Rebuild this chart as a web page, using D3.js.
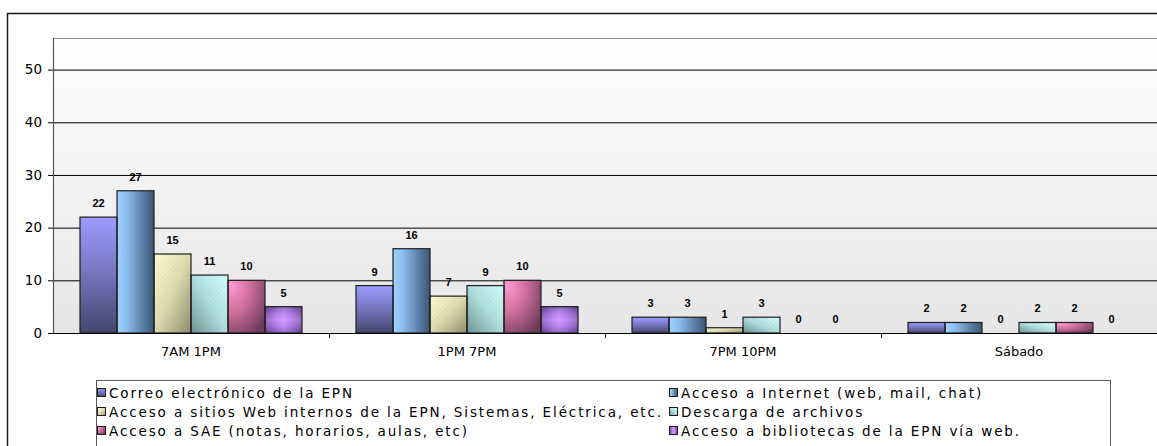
<!DOCTYPE html>
<html>
<head>
<meta charset="utf-8">
<script src="https://cdn.jsdelivr.net/npm/d3@7"></script>
<style>
  html, body { margin: 0; padding: 0; background: #ffffff; }
  svg { display: block; }
</style>
</head>
<body>
<svg id="chart" width="1157" height="446"></svg>
<script>
// Time slots on the horizontal axis
const categories = ["7AM 1PM", "1PM 7PM", "7PM 10PM", "Sábado"];

// Services (one bar series each)
const seriesNames = [
  "Correo electrónico de la EPN",
  "Acceso a Internet (web, mail, chat)",
  "Acceso a sitios Web internos de la EPN, Sistemas, Eléctrica, etc.",
  "Descarga de archivos",
  "Acceso a SAE (notas, horarios, aulas, etc)",
  "Acceso a bibliotecas de la EPN vía web."
];

// Values per series, in category order
const correoValues     = [22, 9, 3, 2];
const internetValues   = [27, 16, 3, 2];
const sitiosValues     = [15, 7, 1, 0];
const descargaValues   = [11, 9, 3, 2];
const saeValues        = [10, 10, 0, 2];
const bibliotecaValues = [5, 5, 0, 0];

const seriesValues = [correoValues, internetValues, sitiosValues,
                      descargaValues, saeValues, bibliotecaValues];

const yTicks = [0, 10, 20, 30, 40, 50];
const yMax = 56;

const svg = d3.select("#chart");
const defs = svg.append("defs");

// ---- fills -------------------------------------------------------------
function linear(id, x1, y1, x2, y2, stops) {
  const g = defs.append("linearGradient").attr("id", id)
    .attr("x1", x1).attr("y1", y1).attr("x2", x2).attr("y2", y2);
  stops.forEach(([o, c]) => g.append("stop").attr("offset", o).attr("stop-color", c));
}
function radial(id, cx, cy, r, stops) {
  const g = defs.append("radialGradient").attr("id", id)
    .attr("cx", cx).attr("cy", cy).attr("r", r);
  stops.forEach(([o, c]) => g.append("stop").attr("offset", o).attr("stop-color", c));
}

linear("bgGrad", 0, 0, 0, 1, [[0, "#ffffff"], [1, "#e6e6e6"]]);
linear("g0", 0, 0, 0, 1, [[0, "#9c9cff"], [0.45, "#7878c4"], [1, "#45456c"]]);
linear("g1", 0, 0, 1, 0, [[0, "#9fd0ff"], [0.25, "#8ec0f0"], [0.7, "#5a7fa6"], [1, "#3c5670"]]);
linear("g2", 0, 0, 1, 1, [[0, "#ffffd2"], [0.5, "#dcdcb0"], [1, "#8e8e6c"]]);
linear("g3", 1, 0, 0, 1, [[0, "#d4ffff"], [0.5, "#b0dede"], [1, "#6f9494"]]);
radial("g4", 0.1, 0.1, 1.1, [[0, "#ff98d0"], [0.45, "#d0709e"], [1, "#6e3c5a"]]);
// framed purple: bright centre, darker border on all four sides
linear("g5h", 0, 0, 1, 0, [[0, "#5e3f84"], [0.3, "#b07ee8"], [0.5, "#d49cff"], [0.7, "#b07ee8"], [1, "#5e3f84"]]);
linear("g5v", 0, 0, 0, 1, [[0, "#5e3f84"], [0.3, "#b07ee8"], [0.5, "#d49cff"], [0.7, "#b07ee8"], [1, "#5e3f84"]]);

// fine diagonal texture on the two pale series
const hatch = defs.append("pattern").attr("id", "hatch")
  .attr("patternUnits", "userSpaceOnUse").attr("width", 3).attr("height", 3)
  .attr("patternTransform", "rotate(45)");
hatch.append("rect").attr("width", 1).attr("height", 3)
  .attr("fill", "#000").attr("opacity", 0.045);

const fills = ["url(#g0)", "url(#g1)", "url(#g2)", "url(#g3)", "url(#g4)", "url(#g5h)"];
const textured = [false, false, true, true, false, false];

// ---- outer frame ---------------------------------------------------------
svg.append("rect")
  .attr("x", 7.5).attr("y", 13.5).attr("width", 1200).attr("height", 500)
  .attr("fill", "#ffffff").attr("stroke", "#1a1a1a").attr("stroke-width", 1.5);

// ---- scales ------------------------------------------------------------
const plotLeft = 53, plotRight = 1157, plotTop = 38, plotBottom = 333;

const x0 = d3.scaleBand().domain(categories).range([plotLeft, plotRight])
  .paddingInner(0).paddingOuter(0);
const x1 = d3.scaleBand().domain(d3.range(seriesValues.length))
  .range([0, x0.bandwidth()]).paddingInner(0).paddingOuter(0.73);
const y = d3.scaleLinear().domain([0, yMax]).range([plotBottom, plotTop]);

// plot background
svg.append("rect")
  .attr("x", plotLeft).attr("y", plotTop)
  .attr("width", plotRight - plotLeft + 5).attr("height", plotBottom - plotTop)
  .attr("fill", "url(#bgGrad)");
svg.append("line")
  .attr("x1", plotLeft).attr("x2", plotRight + 5)
  .attr("y1", plotTop + 0.5).attr("y2", plotTop + 0.5)
  .attr("stroke", "#8c8c8c").attr("stroke-width", 1);

// gridlines + left axis
const yAxis = d3.axisLeft(y).tickValues(yTicks)
  .tickSizeInner(-(plotRight - plotLeft + 5)).tickSizeOuter(0).tickPadding(11);
const yAxisG = svg.append("g").attr("transform", `translate(${plotLeft},0)`).call(yAxis);
yAxisG.select(".domain").remove();
yAxisG.selectAll(".tick line").attr("stroke", "#000").attr("stroke-width", 1)
  .attr("x1", -5);
yAxisG.selectAll(".tick text")
  .attr("font-family", "'DejaVu Sans', Verdana, sans-serif")
  .attr("font-size", 13.5).attr("fill", "#000");

svg.append("line")
  .attr("x1", plotLeft + 0.5).attr("x2", plotLeft + 0.5)
  .attr("y1", plotTop).attr("y2", plotBottom)
  .attr("stroke", "#555").attr("stroke-width", 1.2);

// ---- bars --------------------------------------------------------------
const groups = svg.append("g").selectAll("g")
  .data(categories).join("g")
  .attr("transform", d => `translate(${x0(d)},0)`);

const barData = (cat, ci) => seriesValues.map((vals, si) => ({ si, v: vals[ci] }));

groups.each(function (cat, ci) {
  const g = d3.select(this);
  const data = barData(cat, ci);
  const bars = data.filter(d => d.v > 0);

  g.selectAll("rect.bar").data(bars).join("rect")
    .attr("class", "bar")
    .attr("x", d => x1(d.si)).attr("y", d => y(d.v))
    .attr("width", x1.bandwidth()).attr("height", d => y(0) - y(d.v))
    .attr("fill", d => fills[d.si])
    .attr("stroke", "none");

  // vertical half of the framed purple fill
  g.selectAll("rect.frame").data(bars.filter(d => d.si === 5)).join("rect")
    .attr("class", "frame")
    .attr("x", d => x1(d.si)).attr("y", d => y(d.v))
    .attr("width", x1.bandwidth()).attr("height", d => y(0) - y(d.v))
    .attr("fill", "url(#g5v)").attr("opacity", 0.5);

  g.selectAll("rect.tex").data(bars.filter(d => textured[d.si])).join("rect")
    .attr("class", "tex")
    .attr("x", d => x1(d.si)).attr("y", d => y(d.v))
    .attr("width", x1.bandwidth()).attr("height", d => y(0) - y(d.v))
    .attr("fill", "url(#hatch)").attr("stroke", "none");

  g.selectAll("rect.edge").data(bars).join("rect")
    .attr("class", "edge")
    .attr("x", d => x1(d.si)).attr("y", d => y(d.v))
    .attr("width", x1.bandwidth()).attr("height", d => y(0) - y(d.v))
    .attr("fill", "none")
    .attr("stroke", "#1e1e1e").attr("stroke-width", 1.2);

  g.selectAll("text.val").data(data).join("text")
    .attr("class", "val")
    .attr("x", d => x1(d.si) + x1.bandwidth() / 2)
    .attr("y", d => y(d.v) - 10)
    .attr("text-anchor", "middle")
    .attr("font-family", "'Liberation Sans', Arial, sans-serif")
    .attr("font-weight", "bold").attr("font-size", 11)
    .attr("fill", "#000")
    .text(d => d.v);
});

// ---- bottom axis -----------------------------------------------------
svg.append("line")
  .attr("x1", plotLeft).attr("x2", plotRight + 5)
  .attr("y1", plotBottom + 0.5).attr("y2", plotBottom + 0.5)
  .attr("stroke", "#000").attr("stroke-width", 1.2);

svg.append("g").selectAll("line")
  .data(categories.slice(1)).join("line")
  .attr("x1", d => Math.round(x0(d)) + 0.5).attr("x2", d => Math.round(x0(d)) + 0.5)
  .attr("y1", plotBottom).attr("y2", plotBottom + 5)
  .attr("stroke", "#000").attr("stroke-width", 1);

svg.append("g").selectAll("text")
  .data(categories).join("text")
  .attr("x", d => x0(d) + x0.bandwidth() / 2)
  .attr("y", plotBottom + 23)
  .attr("text-anchor", "middle")
  .attr("font-family", "'DejaVu Sans', Verdana, sans-serif")
  .attr("font-size", 13).attr("fill", "#000")
  .text(d => d);

// ---- legend -------------------------------------------------------------
const legend = svg.append("g");
legend.append("rect")
  .attr("x", 96.5).attr("y", 380.5).attr("width", 1014).attr("height", 100)
  .attr("fill", "#ffffff").attr("stroke", "#5a5a5a").attr("stroke-width", 1);

const legendCols = [97, 669];
const legendRows = [393, 412, 431];
const textOffset = 12;

const items = legend.selectAll("g.item").data(seriesNames).join("g")
  .attr("class", "item")
  .attr("transform", (d, i) => `translate(${legendCols[i % 2]},${legendRows[Math.floor(i / 2)]})`);

items.append("rect")
  .attr("x", 0.5).attr("y", -4.5).attr("width", 8).attr("height", 8)
  .attr("fill", (d, i) => fills[i]).attr("stroke", "#1e1e1e").attr("stroke-width", 1);

const labels = items.append("text")
  .attr("x", textOffset).attr("y", 0).attr("dy", "0.35em")
  .attr("font-family", "'DejaVu Sans', Verdana, sans-serif")
  .attr("font-size", 13.5).attr("fill", "#000")
  .text(d => d);

// widen the tracking so the longest first-column entry fills its column
const firstCol = labels.filter((d, i) => i % 2 === 0);
let widest = 0, widestChars = 1;
firstCol.each(function (d) {
  const w = this.getComputedTextLength();
  if (w > widest) { widest = w; widestChars = d.length; }
});
const columnRoom = legendCols[1] - legendCols[0] - textOffset - 6;
const tracking = Math.max(0, (columnRoom - widest) / widestChars);
labels.attr("letter-spacing", tracking);
</script>
</body>
</html>
